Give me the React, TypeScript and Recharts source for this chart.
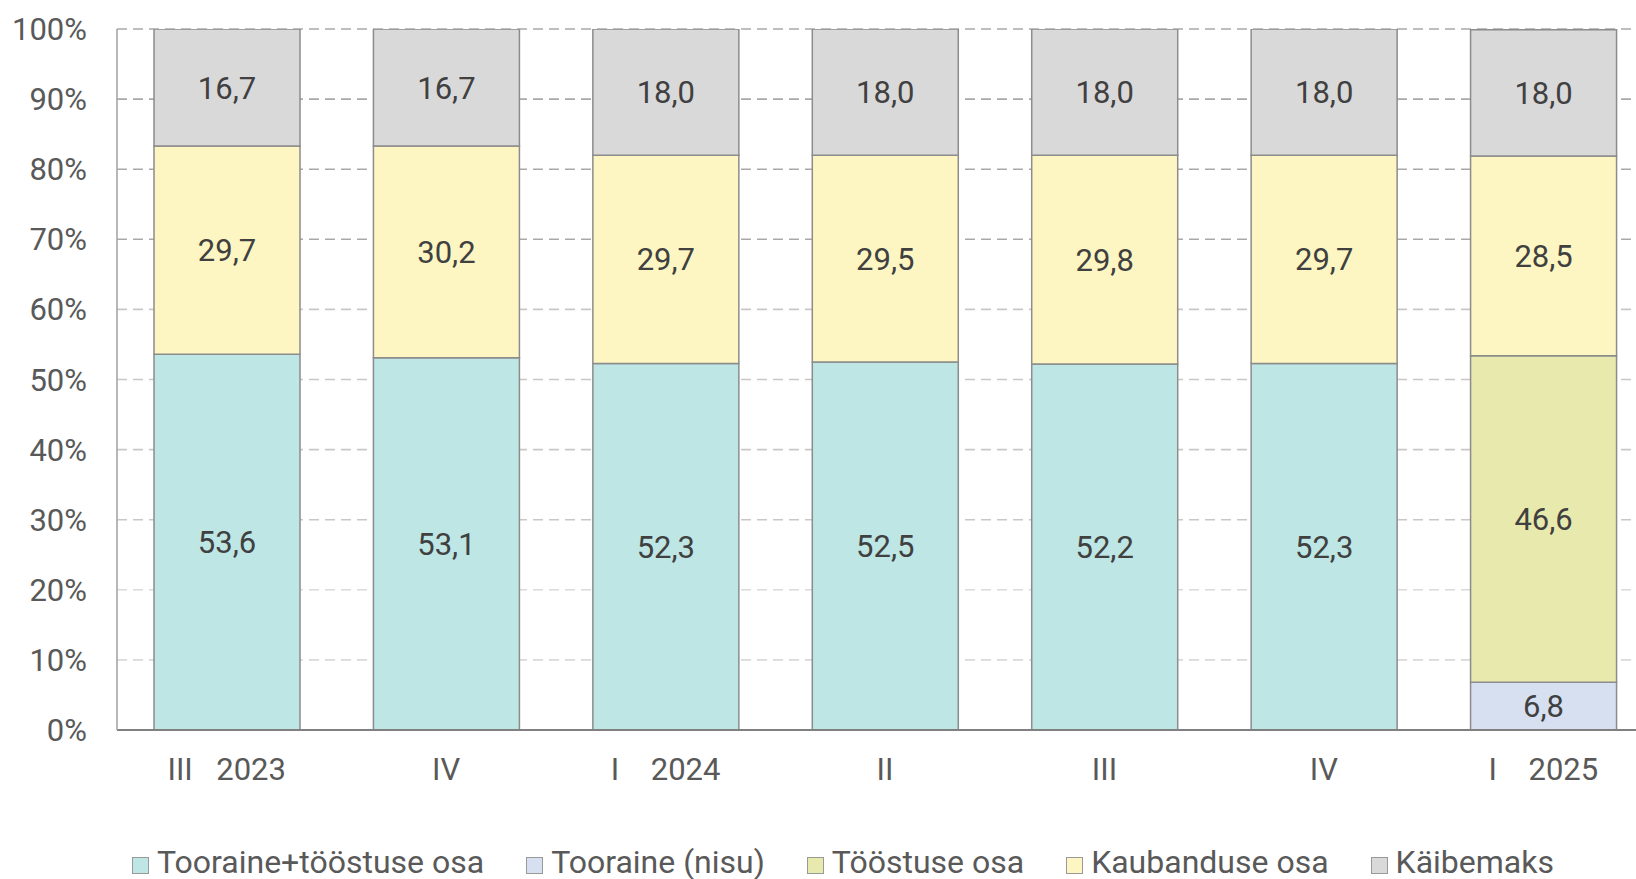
import React from 'react';
import { BarChart, Bar, XAxis, YAxis, CartesianGrid, LabelList, Legend } from 'recharts';

const categories = ['III\u2002 2023', 'IV', 'I\u20032024', 'II', 'III', 'IV', 'I\u20032025'];
const toorainePlusTööstus = [53.6, 53.1, 52.3, 52.5, 52.2, 52.3, null];
const tooraineNisu = [null, null, null, null, null, null, 6.8];
const tööstuseOsa = [null, null, null, null, null, null, 46.6];
const kaubanduseOsa = [29.7, 30.2, 29.7, 29.5, 29.8, 29.7, 28.5];
const käibemaks = [16.7, 16.7, 18.0, 18.0, 18.0, 18.0, 18.0];
const yTicks = [0, 10, 20, 30, 40, 50, 60, 70, 80, 90, 100];

const seriesNames = ['Tooraine+tööstuse osa', 'Tooraine (nisu)', 'Tööstuse osa', 'Kaubanduse osa', 'Käibemaks'];
const seriesKeys = ['a', 'b', 'c', 'd', 'e'];
const seriesColors = ['#bde6e4', '#d6e0f1', '#e8e9ad', '#fdf6c2', '#d9d9d9'];

const data = categories.map((cat, i) => ({
  cat,
  a: toorainePlusTööstus[i],
  b: tooraineNisu[i],
  c: tööstuseOsa[i],
  d: kaubanduseOsa[i],
  e: käibemaks[i],
}));

const FONT = 'Roboto, "Noto Sans", sans-serif';
const fmt = (v: any) => (v === null || v === undefined ? '' : Number(v).toFixed(1).replace('.', ','));

const gridLine = (props: any) => {
  const { x1, x2, y1, y2, index } = props;
  const stroke = y1 < 260 ? '#aca8a8' : y1 < 520 ? '#cbc7c7' : '#d9d9d9';
  return (
    <line
      key={`gl-${index}-${y1}`}
      x1={x1}
      x2={x2}
      y1={y1}
      y2={y2}
      stroke={stroke}
      strokeWidth={1.6}
      strokeDasharray="10 6"
      fill="none"
    />
  );
};

const LegendContent = () => (
  <div
    style={{
      display: 'flex',
      alignItems: 'center',
      height: 38,
      paddingLeft: 132,
      paddingTop: 4,
      boxSizing: 'border-box',
      gap: 42,
      fontFamily: FONT,
      fontSize: 32,
      color: '#595959',
      whiteSpace: 'nowrap',
    }}
  >
    {seriesNames.map((n, i) => (
      <div key={n} style={{ display: 'flex', alignItems: 'center' }}>
        <div
          style={{
            width: 15,
            height: 15,
            background: seriesColors[i],
            border: '1.5px solid #999',
            marginRight: 8,
            marginTop: 6,
          }}
        />
        <span>{n}</span>
      </div>
    ))}
  </div>
);

export default function App() {
  return (
    <div style={{ position: 'absolute', left: 0, top: 0, width: 1636, height: 879, background: '#fff' }}>
      <BarChart
        width={1636}
        height={879}
        data={data}
        margin={{ top: 29, right: -17, left: 0, bottom: 0 }}
        barSize={146}
      >
        <CartesianGrid vertical={false} horizontal={gridLine} />
        <XAxis
          dataKey="cat"
          height={111}
          tickLine={false}
          tickSize={0}
          tickMargin={28}
          axisLine={{ stroke: '#808080', strokeWidth: 2 }}
          tick={{ fill: '#595959', fontSize: 31, fontFamily: FONT }}
          interval={0}
        />
        <YAxis
          width={117}
          domain={[0, 100]}
          ticks={yTicks}
          allowDataOverflow
          tickFormatter={(v) => `${v}%`}
          tickLine={false}
          tickSize={0}
          tickMargin={30}
          axisLine={{ stroke: '#a6a6a6', strokeWidth: 1.6 }}
          tick={{ fill: '#595959', fontSize: 31, fontFamily: FONT }}
        />
        <Legend verticalAlign="bottom" align="left" height={38} content={<LegendContent />} />
        {seriesKeys.map((k, i) => (
          <Bar
            key={k}
            dataKey={k}
            name={seriesNames[i]}
            stackId="s"
            fill={seriesColors[i]}
            stroke="#8c8c8c"
            strokeWidth={1.5}
            isAnimationActive={false}
          >
            <LabelList
              dataKey={k}
              position="center"
              formatter={fmt}
              fill="#404040"
              fontSize={31}
              fontFamily={FONT}
            />
          </Bar>
        ))}
      </BarChart>
    </div>
  );
}
